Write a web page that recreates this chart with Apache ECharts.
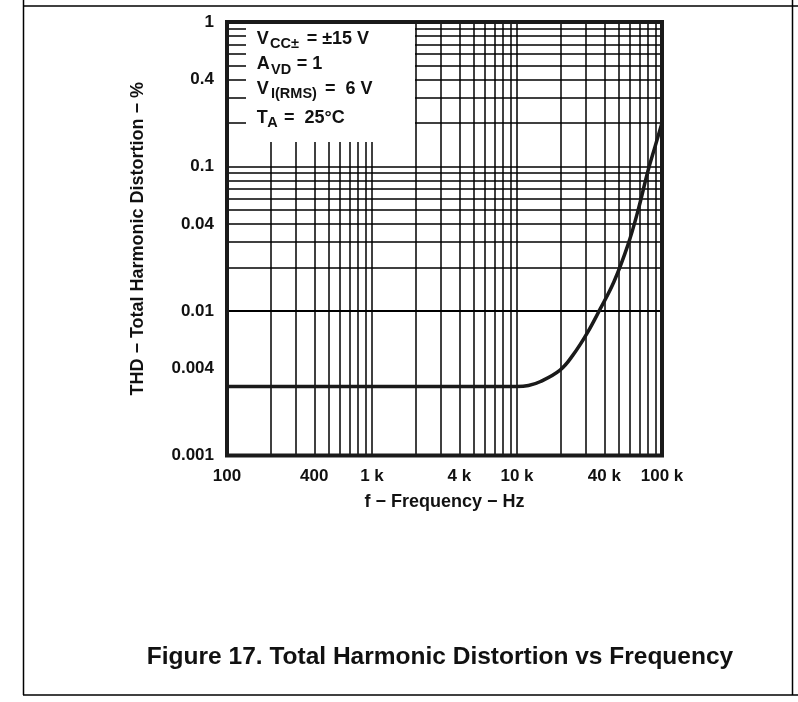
<!DOCTYPE html>
<html>
<head>
<meta charset="utf-8">
<script src="https://cdn.jsdelivr.net/npm/echarts@6/dist/echarts.min.js"></script>
<style>
html,body{margin:0;padding:0;background:#fff;}
#c{width:798px;height:702px;}
</style>
</head>
<body>
<div id="c"></div>
<script>
// ---- data ----
var freqHz = [100, 10000, 12000, 14400, 19800, 24300, 30400, 37400, 46700, 58300, 68300, 80100, 89500, 100000];
var thdPct = [0.003, 0.003, 0.00305, 0.00324, 0.0039, 0.00495, 0.0070, 0.0103, 0.0160, 0.0288, 0.0495, 0.0934, 0.137, 0.20];

var xTickLabels = [100, 400, 1000, 4000, 10000, 40000, 100000];
var yTickLabels = [0.001, 0.004, 0.01, 0.04, 0.1, 0.4, 1];

var xGridLines = [200,300,400,500,600,700,800,900,1000,2000,3000,4000,5000,6000,7000,8000,9000,10000,20000,30000,40000,50000,60000,70000,80000,90000];
var yGridLines = [0.002,0.003,0.004,0.005,0.006,0.007,0.008,0.009,0.01,0.02,0.03,0.04,0.05,0.06,0.07,0.08,0.09,0.1,0.2,0.3,0.4,0.5,0.6,0.7,0.8,0.9];

var xName = 'f \u2212 Frequency \u2212 Hz';
var yName = 'THD \u2212 Total Harmonic Distortion \u2212 %';
var titleText = 'Figure 17. Total Harmonic Distortion vs Frequency';

// legend lines: [text, isSub, x] ; baseline y
var legendLines = [
  {base: 45,  segs: [['V',0,256.7],['CC\u00b1',1,270],['= \u00b115 V',0,306.7]]},
  {base: 70.7,segs: [['A',0,256.7],['VD',1,271],['= 1',0,296.7]]},
  {base: 95,  segs: [['V',0,256.7],['I(RMS)',1,271],['=  6 V',0,325]]},
  {base: 124, segs: [['T',0,256.7],['A',1,267.3],['=  25\u00b0C',0,284]]}
];

var FONT = '"Liberation Sans", Arial, Helvetica, sans-serif';
var INK = '#111';

var seriesData = freqHz.map(function(f,i){return [f, thdPct[i]];});

function fmtX(v){
  v = Math.round(v);
  return v >= 1000 ? (v/1000) + ' k' : String(v);
}
function fmtY(v){
  return String(parseFloat(Number(v).toPrecision(3)));
}

var graphics = [];
// page frame
graphics.push({type:'line', shape:{x1:23,y1:6,x2:798,y2:6}, style:{stroke:'#000',lineWidth:1.5}, z:200});
graphics.push({type:'line', shape:{x1:23.5,y1:0,x2:23.5,y2:695}, style:{stroke:'#000',lineWidth:1.5}, z:200});
graphics.push({type:'line', shape:{x1:792.5,y1:0,x2:792.5,y2:695}, style:{stroke:'#000',lineWidth:1.5}, z:200});
graphics.push({type:'line', shape:{x1:23,y1:695,x2:798,y2:695}, style:{stroke:'#000',lineWidth:1.5}, z:200});
// legend background box
graphics.push({type:'rect', shape:{x:246,y:23,width:169,height:119}, style:{fill:'#fff'}, z:100});
legendLines.forEach(function(line){
  line.segs.forEach(function(s){
    var sub = s[1] === 1;
    var fs = sub ? 14.5 : 18;
    var baseline = line.base + (sub ? 4 : 0);
    graphics.push({
      type:'text', x:s[2], y: baseline - 0.355*fs, z:110,
      style:{text:s[0], fill:INK, font:'bold '+fs+'px '+FONT, textAlign:'left', textVerticalAlign:'middle', verticalAlign:'middle'}
    });
  });
});
// title
graphics.push({type:'text', x:440, y:657, z:110,
  style:{text:titleText, fill:INK, font:'bold 24.5px '+FONT, textAlign:'center', textVerticalAlign:'middle', verticalAlign:'middle'}});

var gridMarks = xGridLines.map(function(v){return {xAxis:v};}).concat(yGridLines.map(function(v){return {yAxis:v};}));

var option = {
  animation:false,
  backgroundColor:'#fff',
  grid:{left:227, top:22, width:435, height:433.5, show:true, z:150, borderColor:'#1a1a1a', borderWidth:4, backgroundColor:'transparent', containLabel:false},
  xAxis:{
    type:'log', logBase:10, min:100, max:100000,
    name:xName, nameLocation:'middle', nameGap:38,
    nameTextStyle:{fontFamily:FONT, fontWeight:'bold', fontSize:18, color:INK},
    axisLine:{show:false}, axisTick:{show:false}, splitLine:{show:false}, minorSplitLine:{show:false},
    axisLabel:{customValues:xTickLabels, formatter:fmtX, margin:12, fontFamily:FONT, fontWeight:'bold', fontSize:17, color:INK, showMinLabel:true, showMaxLabel:true}
  },
  yAxis:{
    type:'log', logBase:10, min:0.001, max:1,
    name:yName, nameLocation:'middle', nameGap:80, nameRotate:90,
    nameTextStyle:{fontFamily:FONT, fontWeight:'bold', fontSize:18, color:INK},
    axisLine:{show:false}, axisTick:{show:false}, splitLine:{show:false},
    axisLabel:{customValues:yTickLabels, formatter:fmtY, margin:13, fontFamily:FONT, fontWeight:'bold', fontSize:17, color:INK, showMinLabel:true, showMaxLabel:true}
  },
  series:[
    {
      type:'line', data:[], silent:true, z:3,
      markLine:{silent:true, symbol:['none','none'], label:{show:false}, animation:false,
        lineStyle:{color:'#000', width:1.5, type:'solid'}, emphasis:{disabled:true},
        data:gridMarks}
    },
    {
      type:'line', data:seriesData, showSymbol:false, symbol:'none', smooth:0.4,
      lineStyle:{color:'#1a1a1a', width:3.5}, z:5, clip:true
    }
  ],
  graphic:{elements:graphics}
};

var chart = echarts.init(document.getElementById('c'), null, {renderer:'canvas'});
chart.setOption(option);
</script>
</body>
</html>
